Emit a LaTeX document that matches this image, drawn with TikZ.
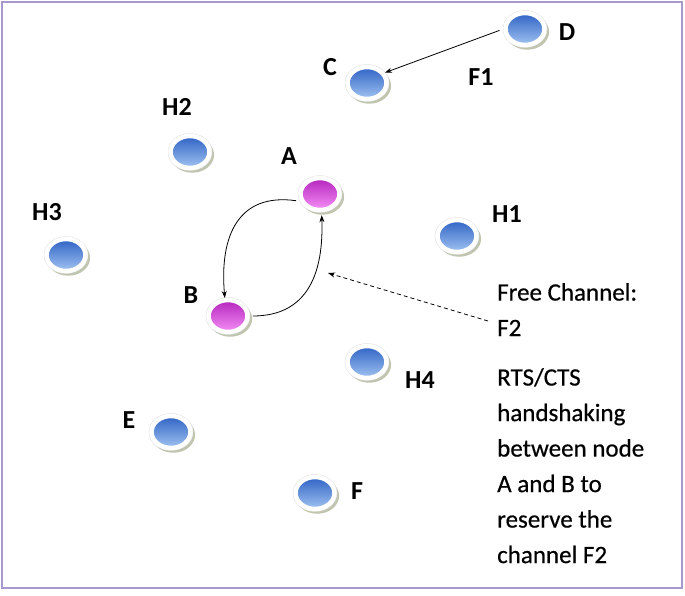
\documentclass[tikz,border=0pt]{standalone}
\usepackage{fontspec}
\setmainfont{Carlito}
\newfontfamily\txtfont[FakeBold=0.5]{Carlito}
\usetikzlibrary{shapes.geometric,arrows.meta,shadows}
\definecolor{framec}{HTML}{A898CC}
\definecolor{bluetop}{HTML}{2E62C4}
\definecolor{bluebot}{HTML}{A2C4F2}
\definecolor{pinktop}{HTML}{B424BC}
\definecolor{pinkbot}{HTML}{F590F7}
\definecolor{shadowc}{HTML}{BFC5AE}
\tikzset{
  station/.style={ellipse, minimum width=39pt, minimum height=32pt, inner sep=0pt,
    draw=white, line width=4.5pt,
    drop shadow={shadow xshift=2pt, shadow yshift=-2.5pt, shadow scale=1.12, fill=shadowc, opacity=1},
    preaction={draw=black!12, line width=5.5pt}},
  bluest/.style={station, top color=bluetop, bottom color=bluebot},
  pinkst/.style={station, top color=pinktop, bottom color=pinkbot},
  lbl/.style={font=\fontsize{26}{30}\selectfont\bfseries, anchor=base, inner sep=0pt},
  txt/.style={font=\txtfont\fontsize{25}{35.5}\selectfont, align=left, anchor=north west, inner sep=0pt},
  arr/.style={line width=0.8pt, -{Stealth[length=7pt,width=5pt]}},
}
\begin{document}
\begin{tikzpicture}[x=1pt,y=-1pt]
\useasboundingbox (0,0) rectangle (685,595);
\draw[framec, line width=2pt] (2,2) rectangle (682,588);

\node[bluest] (D) at (525,29) {};
\node[bluest] (C) at (367,83) {};
\node[bluest] (H2) at (190,152) {};
\node[pinkst] (A) at (320,194) {};
\node[bluest] (H3) at (66,255) {};
\node[bluest] (H1) at (457,236) {};
\node[pinkst] (B) at (228,316) {};
\node[bluest] (H4) at (367,362) {};
\node[bluest] (E) at (171,432) {};
\node[bluest] (F) at (315,493) {};

\node[lbl] (lD) at (567,40) {D};
\node[lbl] (lC) at (330,75) {C};
\node[lbl] (lF1) at (481,85) {F1};
\node[lbl] (lH2) at (177,115) {H2};
\node[lbl] (lA) at (289,164) {A};
\node[lbl] (lH3) at (47,220) {H3};
\node[lbl] (lH1) at (507,222) {H1};
\node[lbl] (lB) at (191,303) {B};
\node[lbl] (lH4) at (420,388) {H4};
\node[lbl] (lE) at (129,428) {E};
\node[lbl] (lF) at (357,499) {F};

\node[txt] (free) at (497,283) {Free Channel:\\F2};
\node[txt] (rts) at (497,368) {RTS/CTS\\handshaking\\between node\\A and B to\\reserve the\\channel F2};

\draw[arr, shorten <=4pt] (D.west) -- (C.30);
\draw[arr, shorten <=4pt] (A.200) to[out=172, in=95, looseness=1.3] (B.100);
\draw[arr, shorten <=3pt, shorten >=3pt] (B.east) to[out=0, in=-88, looseness=1.2] (A.-85);

\coordinate (dstart) at (488,321);
\coordinate (hit) at (328,273);
\draw[arr, dash pattern=on 4pt off 3pt] (dstart) -- (hit);
\end{tikzpicture}
\end{document}
